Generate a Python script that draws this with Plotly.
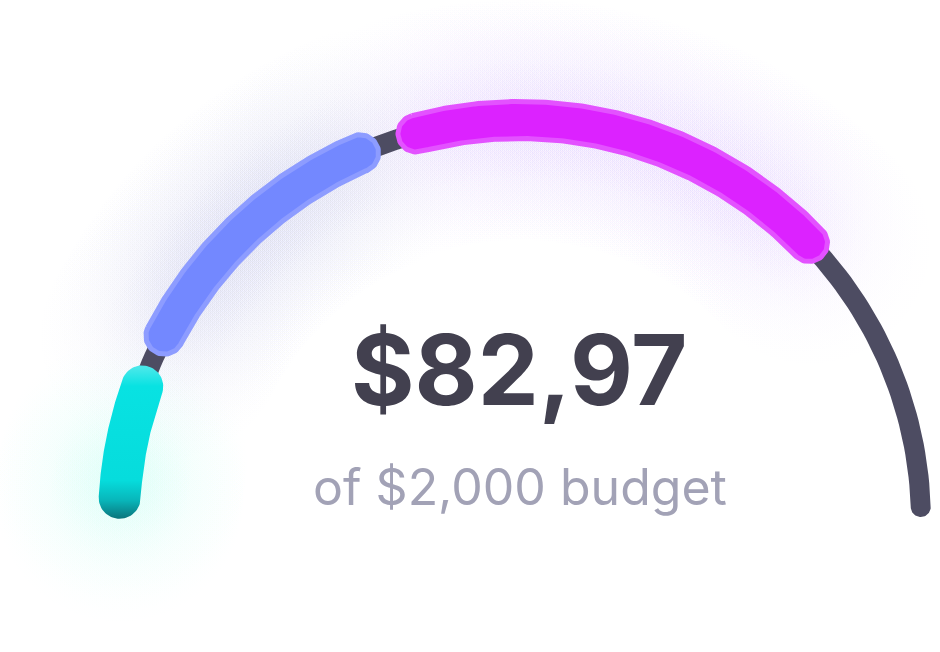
import numpy as np
import plotly.graph_objects as go

# ---------------- data ----------------
BUDGET = 2000
segment_names = ["Essentials", "Lifestyle", "Savings"]
segment_start = [15, 290, 830]       # $ position on the gauge where each band starts
segment_end = [200, 733, 1524]       # $ position on the gauge where each band ends
segment_colors = ["#07e0e0", "#7388ff", "#dc22ff"]
segment_borders = ["#07e0e0", "#8d9cff", "#e352ff"]
glow_rgb = [(110, 255, 225), (120, 125, 205), (170, 115, 255)]
spent_label = "$82,97"
budget_label = "of $2,000 budget"

# ---------------- geometry (pixels) ----------------
W, H = 940, 652
CX, CY, R = 520, 521, 401
A0, A1 = 178.0, 2.0          # angle (deg) at value 0 and at BUDGET
TRACK_HW = 10
SEG_HW = 21


def ang(v):
    return np.radians(A0 + (A1 - A0) * np.asarray(v, dtype=float) / BUDGET)


def centre(v):
    t = ang(v)
    return CX + R * np.cos(t), CY - R * np.sin(t)


def capsule(v0, v1, hw, n=160):
    """Polygon of an arc band with rounded ends, from value v0 to v1."""
    t = ang(np.linspace(v0, v1, n))
    ox, oy = CX + (R + hw) * np.cos(t), CY - (R + hw) * np.sin(t)
    ix, iy = CX + (R - hw) * np.cos(t[::-1]), CY - (R - hw) * np.sin(t[::-1])
    phi = np.linspace(0, np.pi, 40)
    t1 = t[-1]
    u = np.array([np.cos(t1), -np.sin(t1)])
    f = np.array([np.sin(t1), np.cos(t1)])
    p1 = np.array([CX + R * np.cos(t1), CY - R * np.sin(t1)])
    c1x = p1[0] + hw * (np.cos(phi) * u[0] + np.sin(phi) * f[0])
    c1y = p1[1] + hw * (np.cos(phi) * u[1] + np.sin(phi) * f[1])
    t0 = t[0]
    u = np.array([np.cos(t0), -np.sin(t0)])
    b = -np.array([np.sin(t0), np.cos(t0)])
    p0 = np.array([CX + R * np.cos(t0), CY - R * np.sin(t0)])
    c0x = p0[0] + hw * (-np.cos(phi) * u[0] + np.sin(phi) * b[0])
    c0y = p0[1] + hw * (-np.cos(phi) * u[1] + np.sin(phi) * b[1])
    xs = np.concatenate([ox, c1x, ix, c0x])
    ys = np.concatenate([oy, c1y, iy, c0y])
    return xs, ys


fig = go.Figure()


def glow(vals, size, alpha, rgb):
    gx, gy = centre(vals)
    r_, g_, b_ = rgb
    fig.add_trace(go.Scatter(
        x=gx, y=gy, mode="markers", hoverinfo="skip", showlegend=False,
        marker=dict(size=size, color=f"rgba({r_},{g_},{b_},0)", line=dict(width=0),
                    gradient=dict(type="radial", color=f"rgba({r_},{g_},{b_},{alpha})"))))


# glows: blue and magenta follow their band, cyan pools around the lower end
glow_alpha = [0.0, 0.022, 0.018]
for i in (1, 2):
    vals = np.linspace(segment_start[i], segment_end[i],
                       max(6, int((segment_end[i] - segment_start[i]) / 25)))
    glow(vals, 270, glow_alpha[i], glow_rgb[i])
    glow(vals, 150, glow_alpha[i] / 2, glow_rgb[i])
cy_vals = np.linspace(segment_start[0], segment_start[0] + 0.3 * (segment_end[0] - segment_start[0]), 4)
glow(cy_vals, 260, 0.04, glow_rgb[0])
glow(cy_vals, 150, 0.025, glow_rgb[0])

# track
tx, ty = capsule(0, BUDGET, TRACK_HW)
fig.add_trace(go.Scatter(x=tx, y=ty, mode="lines", fill="toself",
                         fillcolor="#4d4c62", line=dict(width=0),
                         hoverinfo="skip", showlegend=False))

# segments
for i in range(3):
    if i == 0:
        sx, sy = capsule(segment_start[i], segment_end[i], SEG_HW)
        fig.add_trace(go.Scatter(
            x=sx, y=sy, mode="lines", fill="toself", name=segment_names[i],
            line=dict(width=0), showlegend=False, hoverinfo="name",
            fillgradient=dict(type="vertical", start=368, stop=520,
                              colorscale=[[0, "#48e8ea"], [0.12, "#08e2e2"],
                                          [0.74, "#06dcdc"], [0.87, "#08b6ba"],
                                          [1, "#0b7077"]])))
    else:
        sx, sy = capsule(segment_start[i], segment_end[i], SEG_HW - 2.5)
        fig.add_trace(go.Scatter(
            x=sx, y=sy, mode="lines", fill="toself", name=segment_names[i],
            fillcolor=segment_colors[i],
            line=dict(width=5, color=segment_borders[i]),
            showlegend=False, hoverinfo="name"))

fig.add_annotation(x=519, y=369.5, xref="x", yref="y", text=spent_label,
                   showarrow=False, xanchor="center", yanchor="middle",
                   font=dict(family="Inter", size=97, color="#42404f", weight=700))
fig.add_annotation(x=520, y=486.5, xref="x", yref="y", text=budget_label,
                   showarrow=False, xanchor="center", yanchor="middle",
                   font=dict(family="Inter", size=50, color="#a2a2b6"))

fig.update_layout(
    width=W, height=H, margin=dict(l=0, r=0, t=0, b=0),
    paper_bgcolor="white", plot_bgcolor="white",
    xaxis=dict(range=[0, W], visible=False, fixedrange=True),
    yaxis=dict(range=[H, 0], visible=False, fixedrange=True),
)
fig.write_html("out.html")
